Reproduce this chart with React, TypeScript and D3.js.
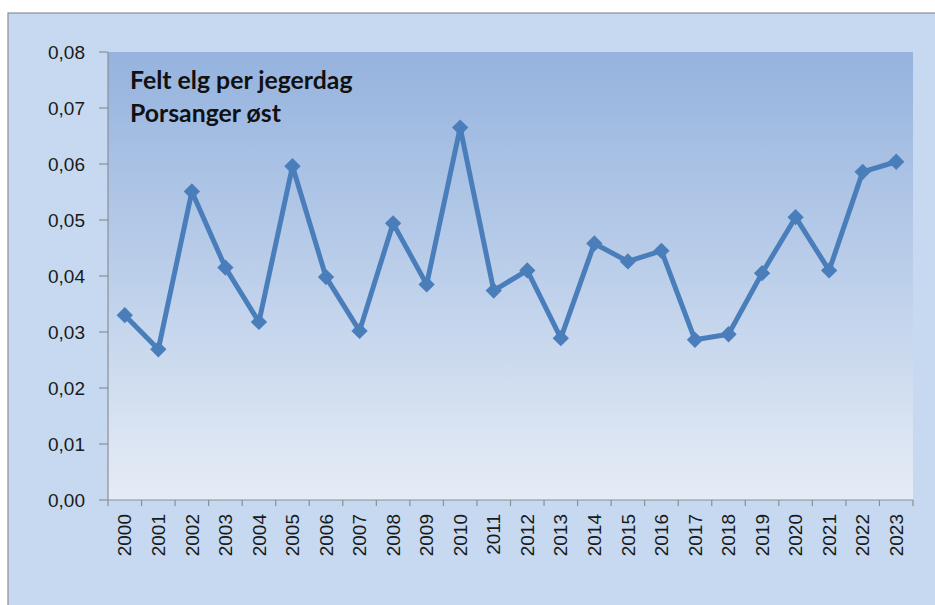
import React from "react";
import * as d3 from "d3";

const years = ["2000","2001","2002","2003","2004","2005","2006","2007","2008","2009","2010","2011","2012","2013","2014","2015","2016","2017","2018","2019","2020","2021","2022","2023"];
const values = [0.0330,0.0269,0.0551,0.0415,0.0318,0.0596,0.0398,0.0302,0.0494,0.0385,0.0665,0.0374,0.0410,0.0289,0.0458,0.0426,0.0445,0.0286,0.0296,0.0405,0.0505,0.0410,0.0586,0.0604];
const yTicks = [0,0.01,0.02,0.03,0.04,0.05,0.06,0.07,0.08];
const titleLines = ["Felt elg per jegerdag", "Porsanger øst"];

const W = 935, H = 605;
const plot = { left: 108, right: 913, top: 52, bottom: 500 };

export default function App() {
  const x = d3.scaleBand<string>().domain(years).range([plot.left, plot.right]).padding(0);
  const y = d3.scaleLinear().domain([0, 0.08]).range([plot.bottom, plot.top]);
  const fmt = (v: number) => v.toFixed(2).replace(".", ",");
  const cx = (i: number) => (x(years[i]) as number) + x.bandwidth() / 2;
  const line = d3.line<number>().x((_, i) => cx(i)).y((d) => y(d));
  const boundaries = years.map((yr) => x(yr) as number).concat([plot.right]);
  const axisColor = "#8a8f96";
  const lineColor = "#4a7ebb";
  const labelFont = "'Liberation Sans', Arial, sans-serif";

  return (
    <div style={{ position: "absolute", left: 0, top: 0 }}>
      <svg width={W} height={H} style={{ display: "block" }}>
        <defs>
          <linearGradient id="plotGrad" x1="0" y1="0" x2="0" y2="1">
            <stop offset="0" stopColor="#95b3de" />
            <stop offset="0.5" stopColor="#bccfea" />
            <stop offset="1" stopColor="#e6ecf6" />
          </linearGradient>
        </defs>
        <rect x={0} y={0} width={W} height={H} fill="#ffffff" />
        <rect x={8} y={13} width={W + 10} height={H + 10} fill="#c6d9f0" stroke="#8c9096" strokeWidth={1.2} />
        <rect x={plot.left} y={plot.top} width={plot.right - plot.left} height={plot.bottom - plot.top} fill="url(#plotGrad)" />

        {/* y axis */}
        <line x1={plot.left} x2={plot.left} y1={plot.top} y2={plot.bottom} stroke={axisColor} strokeWidth={1.2} />
        {yTicks.map((t) => (
          <g key={t}>
            <line x1={plot.left - 9} x2={plot.left} y1={y(t)} y2={y(t)} stroke={axisColor} strokeWidth={1.2} />
            <text x={85} y={y(t)} dy="0.35em" textAnchor="end" fontFamily={labelFont} fontSize={19} fill="#1a1a1a">
              {fmt(t)}
            </text>
          </g>
        ))}

        {/* x axis */}
        <line x1={plot.left} x2={plot.right} y1={plot.bottom} y2={plot.bottom} stroke={axisColor} strokeWidth={1.2} />
        {boundaries.map((b, i) => (
          <line key={i} x1={b} x2={b} y1={plot.bottom} y2={plot.bottom + 6} stroke={axisColor} strokeWidth={1.2} />
        ))}
        {years.map((yr, i) => (
          <text
            key={yr}
            transform={`translate(${cx(i)},${plot.bottom + 14}) rotate(-90)`}
            textAnchor="end"
            dy="0.35em"
            fontFamily={labelFont}
            fontSize={19}
            fill="#1a1a1a"
          >
            {yr}
          </text>
        ))}

        {/* series */}
        <path d={line(values) || ""} fill="none" stroke={lineColor} strokeWidth={5} strokeLinejoin="round" />
        {values.map((v, i) => (
          <path key={i} d={d3.symbol(d3.symbolDiamond2, 170)() || ""} transform={`translate(${cx(i)},${y(v)})`} fill={lineColor} />
        ))}

        {/* title */}
        {titleLines.map((t, i) => (
          <text key={t} x={130} y={89 + i * 33} fontFamily="Lato, 'Open Sans', sans-serif" fontWeight="bold" fontSize={24.8} fill="#111" >
            {t}
          </text>
        ))}
      </svg>
    </div>
  );
}
